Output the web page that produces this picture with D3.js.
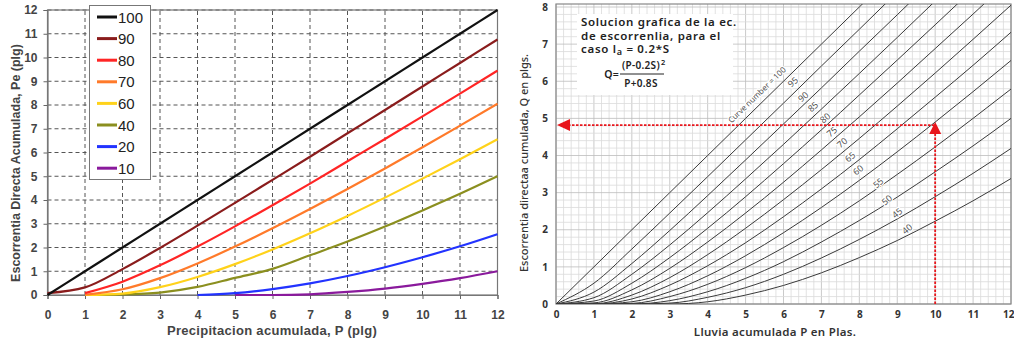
<!DOCTYPE html>
<html><head><meta charset="utf-8">
<script src="https://cdn.jsdelivr.net/npm/d3@7"></script>
<style>
body{margin:0;background:#fff;}
svg{display:block;}
</style></head>
<body>
<svg id="c" width="1014" height="342"></svg>
<script>
// ---------- Left chart data ----------
const leftP = [0,1,2,3,4,5,6,7,8,9,10,11,12];
const leftTicks = [0,1,2,3,4,5,6,7,8,9,10,11,12];
const leftNames = ["100","90","80","70","60","40","20","10"];
const leftColors = ["#111111","#8a1c1c","#ff2525","#ff7a2a","#ffd21a","#8b8f1f","#2233ff","#8a1a9c"];
const L100 = [0,1,2,3,4,5,6,7,8,9,10,11,12];
const L90  = [0.08,0.32,1.09,1.98,2.92,3.88,4.85,5.82,6.81,7.79,8.78,9.77,10.76];
const L80  = [null,0.08,0.56,1.25,2.04,2.89,3.78,4.69,5.63,6.57,7.52,8.48,9.45];
const L70  = [null,0.01,0.24,0.71,1.33,2.04,2.81,3.62,4.46,5.33,6.22,7.13,8.05];
const L60  = [null,0,0.06,0.33,0.76,1.30,1.92,2.60,3.33,4.10,4.90,5.72,6.56];
const L40  = [null,0,0.02,0.1,0.34,0.72,1.1,1.67,2.25,2.88,3.56,4.26,5.0];
const L20  = [null,null,null,null,0,0.08,0.25,0.49,0.80,1.17,1.59,2.05,2.56];
const L10  = [null,null,null,null,null,0,0,0.03,0.13,0.27,0.47,0.71,1.0];
const leftSeries = [L100,L90,L80,L70,L60,L40,L20,L10];

// ---------- Right chart data ----------
const rightP = [0,1,2,3,4,5,6,7,8,9,10,11,12];
const rightXTicks = [0,1,2,3,4,5,6,7,8,9,10,11,12];
const rightYTicks = [0,1,2,3,4,5,6,7,8];
const rightCN = ["100","95","90","85","80","75","70","65","60","55","50","45","40"];
const R100 = [0,1,2,3,4,5,6,7,8,9,10,11,12];
const R95  = [0,0.56,1.48,2.45,3.43,4.42,5.41,6.41,7.40,8.40,9.40,10.39,11.39];
const R90  = [0,0.32,1.09,1.98,2.92,3.88,4.85,5.82,6.81,7.79,8.78,9.77,10.76];
const R85  = [0,0.17,0.80,1.59,2.46,3.37,4.30,5.25,6.21,7.18,8.16,9.13,10.11];
const R80  = [0,0.08,0.56,1.25,2.04,2.89,3.78,4.69,5.63,6.57,7.52,8.48,9.45];
const R75  = [0,0.03,0.38,0.96,1.67,2.45,3.28,4.15,5.04,5.95,6.88,7.81,8.76];
const R70  = [0,0.005,0.24,0.71,1.33,2.04,2.81,3.62,4.46,5.33,6.22,7.13,8.05];
const R65  = [0,0,0.135,0.51,1.03,1.65,2.35,3.10,3.89,4.72,5.57,6.43,7.32];
const R60  = [0,0,0.06,0.33,0.76,1.30,1.92,2.60,3.33,4.10,4.90,5.72,6.56];
const R55  = [0,0,0.016,0.20,0.53,0.98,1.52,2.12,2.78,3.49,4.23,5.00,5.79];
const R50  = [0,0,0,0.09,0.33,0.69,1.14,1.67,2.25,2.88,3.56,4.26,5.00];
const R45  = [0,0,0,0.024,0.18,0.44,0.80,1.24,1.74,2.29,2.89,3.52,4.19];
const R40  = [0,0,0,0,0.06,0.24,0.50,0.84,1.25,1.71,2.23,2.78,3.38];
const rightSeries = [R100,R95,R90,R85,R80,R75,R70,R65,R60,R55,R50,R45,R40];
const labelP = [5.3,6.25,6.52,6.78,7.10,7.28,7.55,7.76,7.97,8.50,8.73,9.0,9.26];
const labelQ = [5.63,5.98,5.58,5.31,5.01,4.64,4.34,3.96,3.61,3.26,2.80,2.45,2.02];
const arrowP = 10, arrowQ = 4.82;

const svg = d3.select("#c");

// ================= LEFT CHART =================
const lx = d3.scaleLinear().domain([0,12]).range([47.5,497.5]);
const ly = d3.scaleLinear().domain([0,12]).range([295,10]);
const gL = svg.append("g");

gL.append("g").selectAll("line").data(leftTicks.slice(1)).join("line")
  .attr("x1",d=>lx(d)).attr("x2",d=>lx(d)).attr("y1",ly(0)).attr("y2",ly(12))
  .attr("stroke","#555").attr("stroke-width",1).attr("stroke-dasharray","4,3");
gL.append("g").selectAll("line").data(leftTicks.slice(1)).join("line")
  .attr("y1",d=>ly(d)).attr("y2",d=>ly(d)).attr("x1",lx(0)).attr("x2",lx(12))
  .attr("stroke","#555").attr("stroke-width",1).attr("stroke-dasharray","4,3");
gL.append("rect").attr("x",lx(0)).attr("y",ly(12)).attr("width",lx(12)-lx(0)).attr("height",ly(0)-ly(12))
  .attr("fill","none").attr("stroke","#777").attr("stroke-width",1.2);

const lxAxis = gL.append("g").attr("transform",`translate(0,${ly(0)})`)
  .call(d3.axisBottom(lx).tickValues(leftTicks).tickSize(4).tickPadding(11).tickFormat(d3.format("d")));
const lyAxis = gL.append("g").attr("transform",`translate(${lx(0)},0)`)
  .call(d3.axisLeft(ly).tickValues(leftTicks).tickSize(4).tickPadding(6).tickFormat(d3.format("d")));
[lxAxis,lyAxis].forEach(a=>{
  a.select(".domain").attr("stroke","#777").attr("stroke-width",1.2);
  a.selectAll(".tick line").attr("stroke","#666");
  a.selectAll("text").attr("font-family","Liberation Sans, Arial, sans-serif").attr("font-size",12)
   .attr("font-weight","bold").attr("fill","#444");
});

const lline = d3.line().defined(d=>d[1]!==null).x(d=>lx(d[0])).y(d=>ly(d[1])).curve(d3.curveMonotoneX);
for(let i=leftSeries.length-1;i>=0;i--){
  const pts = leftP.map((p,j)=>[p,leftSeries[i][j]]);
  gL.append("path").attr("d",lline(pts)).attr("fill","none")
    .attr("stroke",leftColors[i]).attr("stroke-width",2.2).attr("stroke-linejoin","round");
}

const leg = gL.append("g");
leg.append("rect").attr("x",89.5).attr("y",5.5).attr("width",61).attr("height",174)
  .attr("fill","#fff").attr("stroke","#777").attr("stroke-width",1);
leftNames.forEach((n,i)=>{
  const y = 17 + i*21.6;
  leg.append("line").attr("x1",97).attr("x2",117).attr("y1",y).attr("y2",y)
    .attr("stroke",leftColors[i]).attr("stroke-width",3);
  leg.append("text").attr("x",118).attr("y",y+5.5).text(n)
    .attr("font-family","Liberation Sans, Arial, sans-serif").attr("font-size",15).attr("fill","#222");
});

gL.append("text").attr("x",272).attr("y",335).attr("text-anchor","middle")
  .attr("font-family","Liberation Sans, Arial, sans-serif").attr("font-size",13).attr("font-weight","bold")
  .attr("fill","#444").attr("letter-spacing",0.3).text("Precipitacion acumulada, P (plg)");
gL.append("text").attr("transform","translate(20,163) rotate(-90)").attr("text-anchor","middle")
  .attr("font-family","Liberation Sans, Arial, sans-serif").attr("font-size",12.5).attr("font-weight","bold")
  .attr("fill","#444").text("Escorrentia Directa Acumulada, Pe (plg)");

// ================= RIGHT CHART =================
const rx = d3.scaleLinear().domain([0,12]).range([556,1011]);
const ry = d3.scaleLinear().domain([0,8]).range([304,7]);
const gR = svg.append("g");
const fontR = "Noto Sans, Lato, sans-serif";

const fineX = d3.range(0,60.5,1).map(i=>i/5);
const fineY = d3.range(0,40.5,1).map(i=>i/5);
gR.append("g").selectAll("line").data(fineX).join("line")
  .attr("x1",d=>rx(d)).attr("x2",d=>rx(d)).attr("y1",ry(0)).attr("y2",ry(8)-3)
  .attr("stroke",(d,i)=>i%5===0?"#bdbdbd":"#dadada").attr("stroke-width",0.8);
gR.append("g").selectAll("line").data(fineY).join("line")
  .attr("y1",d=>ry(d)).attr("y2",d=>ry(d)).attr("x1",rx(0)).attr("x2",rx(12))
  .attr("stroke",(d,i)=>i%5===0?"#bdbdbd":"#dadada").attr("stroke-width",0.8);
gR.append("rect").attr("x",rx(0)).attr("y",ry(8)-3).attr("width",rx(12)-rx(0)).attr("height",ry(0)-ry(8)+3)
  .attr("fill","none").attr("stroke","#888").attr("stroke-width",1.2);

svg.append("clipPath").attr("id","rclip").append("rect")
  .attr("x",rx(0)).attr("y",ry(8)-3).attr("width",rx(12)-rx(0)).attr("height",ry(0)-ry(8)+3);

const rline = d3.line().x(d=>rx(d[0])).y(d=>ry(d[1])).curve(d3.curveMonotoneX);
const curves = gR.append("g").attr("clip-path","url(#rclip)");
rightSeries.forEach(s=>{
  curves.append("path").attr("d",rline(rightP.map((p,j)=>[p,s[j]])))
    .attr("fill","none").attr("stroke","#3a3a3a").attr("stroke-width",1);
});

rightCN.forEach((n,i)=>{
  const t = i===0 ? "Curve number = 100" : n;
  gR.append("text").attr("transform",`translate(${rx(labelP[i])},${ry(labelQ[i])}) rotate(${i===0?-44:-40})`)
    .attr("text-anchor","middle").attr("dy","0.35em")
    .attr("font-family",fontR).attr("font-size",i===0?8:9).attr("fill","#555")
    .attr("stroke","#fff").attr("stroke-width",2.5).attr("paint-order","stroke").text(t);
});

const red = "#e8161c";
gR.append("line").attr("x1",rx(0)+12).attr("x2",rx(arrowP)).attr("y1",ry(arrowQ)).attr("y2",ry(arrowQ))
  .attr("stroke",red).attr("stroke-width",1.8).attr("stroke-dasharray","2.5,1.5");
gR.append("line").attr("x1",rx(arrowP)).attr("x2",rx(arrowP)).attr("y1",ry(0)).attr("y2",ry(arrowQ)+8)
  .attr("stroke",red).attr("stroke-width",1.8).attr("stroke-dasharray","2.5,1.5");
const ax = rx(0)+1, ay = ry(arrowQ);
gR.append("path").attr("d",`M${ax},${ay} L${ax+13},${ay-6} L${ax+13},${ay+6} Z`).attr("fill",red);
const bx = rx(arrowP), by = ry(arrowQ)-3;
gR.append("path").attr("d",`M${bx},${by} L${bx-6},${by+12} L${bx+6},${by+12} Z`).attr("fill",red);

const box = gR.append("g");
box.append("rect").attr("x",577).attr("y",14).attr("width",156).attr("height",81).attr("fill","#fff");
const tb = (x,y,t,size,anchor,ls)=>box.append("text").attr("x",x).attr("y",y).text(t)
  .attr("font-family",fontR).attr("font-size",size||11.5).attr("font-weight","600").attr("fill","#222")
  .attr("letter-spacing",ls===undefined?0.7:ls)
  .attr("text-anchor",anchor||"start");
tb(581,26,"Solucion grafica de la ec.");
tb(581,40,"de escorrenlia, para el");
const l3 = tb(581,53,"caso l");
l3.append("tspan").attr("font-size",9).attr("dy",1.5).text("a");
l3.append("tspan").attr("dy",-1.5).text(" = 0.2*S");
tb(619,78,"Q=",10.5,"end",0.3);
tb(641,69,"(P-0.2S)",10,"middle",0.3);
tb(661,65,"2",7.5,"start",0);
box.append("line").attr("x1",620).attr("x2",664).attr("y1",74).attr("y2",74).attr("stroke","#222").attr("stroke-width",1);
tb(641,87,"P+0.8S",10,"middle",0.3);

const rxAxis = gR.append("g").attr("transform",`translate(0,${ry(0)})`)
  .call(d3.axisBottom(rx).tickValues(rightXTicks).tickSize(0).tickPadding(7).tickFormat(d3.format("d")));
const ryAxis = gR.append("g").attr("transform",`translate(${rx(0)},0)`)
  .call(d3.axisLeft(ry).tickValues(rightYTicks).tickSize(0).tickPadding(8).tickFormat(d3.format("d")));
[rxAxis,ryAxis].forEach(a=>{
  a.select(".domain").remove();
  a.selectAll("text").attr("font-family",fontR).attr("font-size",10).attr("font-weight","bold").attr("fill","#333");
});
rxAxis.selectAll(".tick text").filter(d=>d===12).attr("text-anchor","end").attr("dx",3);

gR.append("text").attr("x",775).attr("y",336).attr("text-anchor","middle")
  .attr("font-family",fontR).attr("font-size",11.5).attr("font-weight","600").attr("fill","#333")
  .attr("letter-spacing",0.3).text("Lluvia acumulada P en Plas.");
gR.append("text").attr("transform","translate(528,163) rotate(-90)").attr("text-anchor","middle")
  .attr("font-family",fontR).attr("font-size",11).attr("font-weight","500").attr("fill","#333")
  .text("Escorrentia directaa cumulada, Q en plgs.");
</script>
</body></html>
